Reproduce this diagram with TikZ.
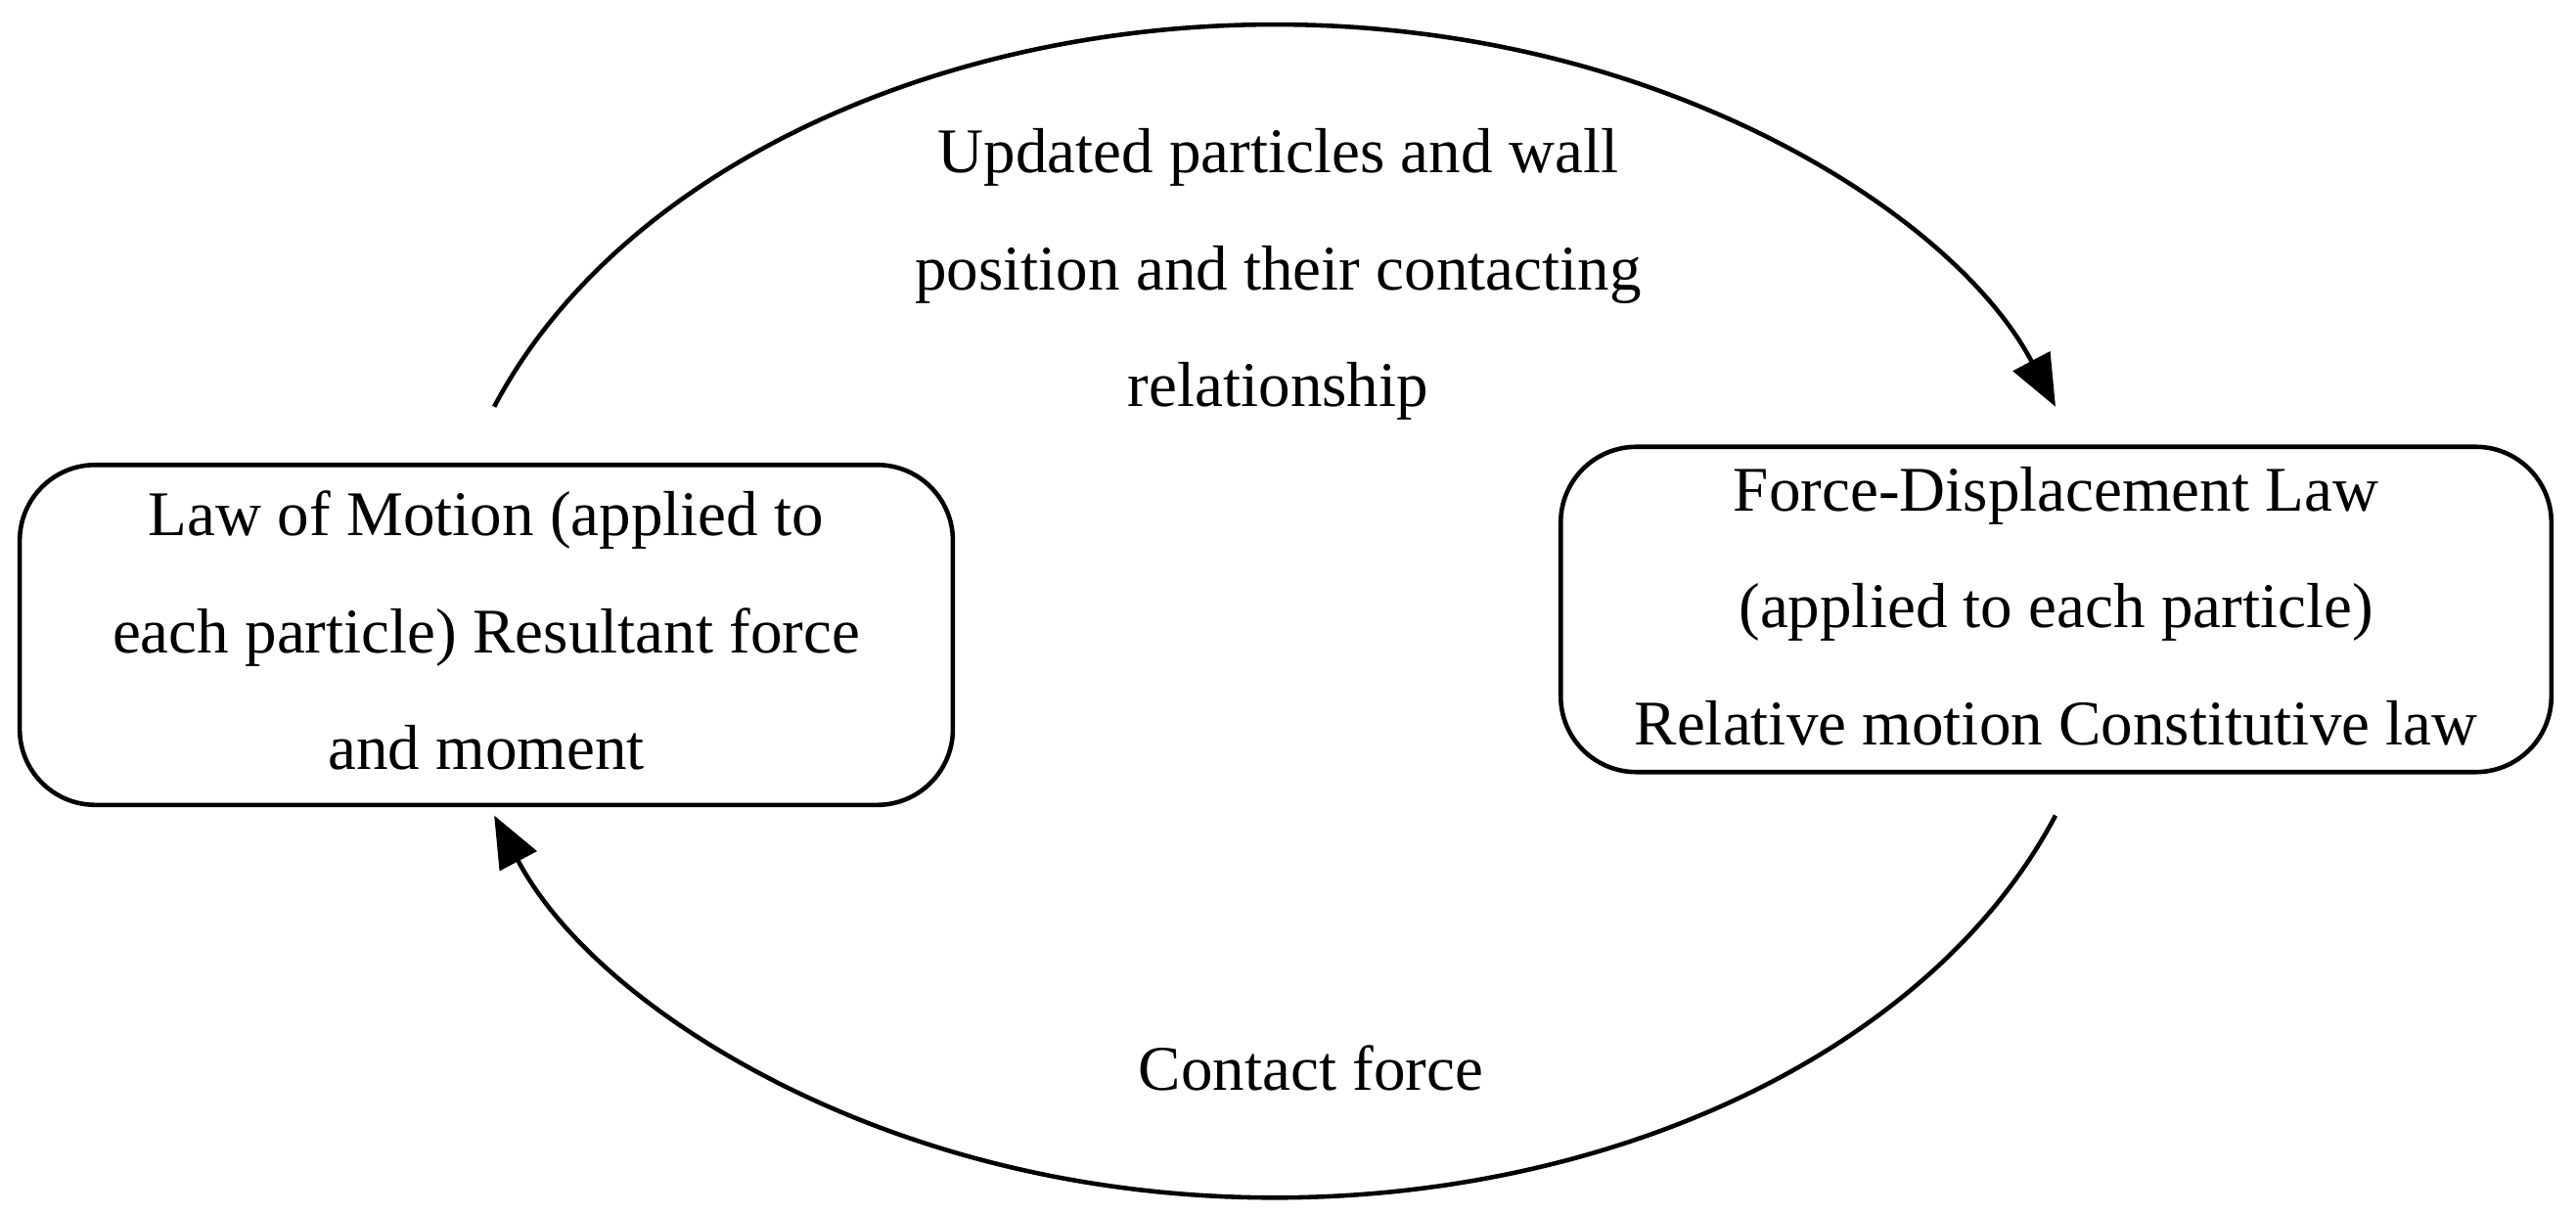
\documentclass[tikz,border=0pt]{standalone}
\usepackage{fontspec}
\setmainfont{Liberation Serif}
\usetikzlibrary{arrows.meta,calc}
\begin{document}
\begin{tikzpicture}[x=0.01679cm,y=0.01679cm,
  box/.style={draw,line width=1.3pt,rounded corners=22pt,inner sep=0pt},
  txt/.style={font=\fontsize{18.5}{34}\selectfont,align=center},
  arr/.style={line width=1.3pt,-{Triangle[length=15pt,width=12pt]}}]
\useasboundingbox (0,0) rectangle (1568,739);
\node[box,minimum width=568*0.01679cm,minimum height=207*0.01679cm] (L) at (296,352.5) {};
\node[txt] (Lt) at (296,355) {Law of Motion (applied to\\each particle) Resultant force\\and moment};
\node[box,minimum width=603*0.01679cm,minimum height=198*0.01679cm] (R) at (1251.5,368) {};
\node[txt] (Rt) at (1251.5,370) {Force-Displacement Law\\(applied to each particle)\\Relative motion Constitutive law};
\node[txt] (T) at (778,572) {Updated particles and wall\\position and their contacting\\relationship};
\node[txt] (B) at (798,89) {Contact force};
\coordinate (c) at (776,367);
\draw[arr] ($(c)+(159.6:507 and 357)$) arc[start angle=159.6,end angle=20.4,x radius=507,y radius=357];
\draw[arr] ($(c)+(-20.4:507 and 357)$) arc[start angle=-20.4,end angle=-159.6,x radius=507,y radius=357];
\end{tikzpicture}
\end{document}
